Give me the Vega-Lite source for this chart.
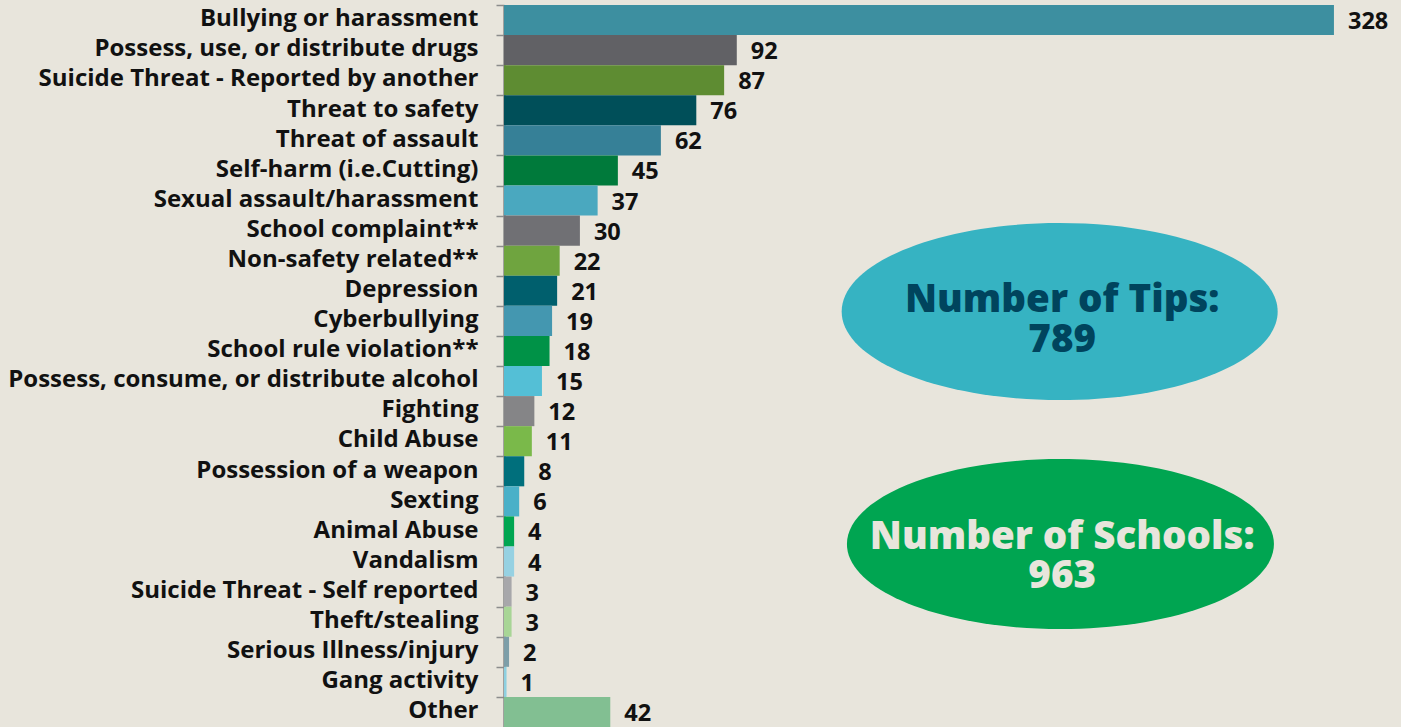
{
  "$schema": "https://vega.github.io/schema/vega-lite/v6.json",
  "width": 897,
  "height": 722,
  "autosize": {"type": "none"},
  "padding": {"left": 504, "top": 5, "right": 0, "bottom": 0},
  "background": "#e8e5dc",
  "config": {"view": {"stroke": null}, "font": "Open Sans"},
  "datasets": {
    "tips": [
      {"category": "Bullying or harassment", "count": 328},
      {"category": "Possess, use, or distribute drugs\u2005", "count": 92},
      {"category": "Suicide Threat - Reported by another", "count": 87},
      {"category": "Threat to safety", "count": 76},
      {"category": "Threat of assault", "count": 62},
      {"category": "Self-harm (i.e.Cutting)", "count": 45},
      {"category": "Sexual assault/harassment", "count": 37},
      {"category": "School complaint**", "count": 30},
      {"category": "Non-safety related**", "count": 22},
      {"category": "Depression", "count": 21},
      {"category": "Cyberbullying", "count": 19},
      {"category": "School rule violation**", "count": 18},
      {"category": "Possess, consume, or distribute alcohol", "count": 15},
      {"category": "Fighting", "count": 12},
      {"category": "Child Abuse", "count": 11},
      {"category": "Possession of a weapon", "count": 8},
      {"category": "Sexting", "count": 6},
      {"category": "Animal Abuse", "count": 4},
      {"category": "Vandalism", "count": 4},
      {"category": "Suicide Threat - Self reported", "count": 3},
      {"category": "Theft/stealing", "count": 3},
      {"category": "Serious Illness/injury", "count": 2},
      {"category": "Gang activity", "count": 1},
      {"category": "Other\u2005", "count": 42}
    ],
    "ovals": [
      {"oval": "tips", "x": 219.6, "row": 10.19},
      {"oval": "schools", "x": 219.9, "row": 17.92}
    ],
    "lines": [
      {"oval": "tips", "text": "Number of Tips:", "x": 220.6, "row": 10.19},
      {"oval": "tips", "text": "789", "x": 220.6, "row": 11.52},
      {"oval": "schools", "text": "Number of Schools:", "x": 220.6, "row": 18.08},
      {"oval": "schools", "text": "963", "x": 220.6, "row": 19.38}
    ]
  },
  "layer": [
    {
      "data": {"name": "tips"},
      "encoding": {
        "y": {
          "field": "category",
          "type": "nominal",
          "sort": null,
          "scale": {"paddingInner": 0, "paddingOuter": 0},
          "axis": {
            "title": null,
            "labelFont": "Open Sans",
            "labelFontWeight": "bold",
            "labelFontSize": 24,
            "labelColor": "#111111",
            "labelPadding": 18,
            "labelLimit": 0,
            "tickSize": 8,
            "tickColor": "#8c8c8c",
            "tickWidth": 1.5,
            "domainColor": "#8a8a8a",
            "domainWidth": 2.5,
            "tickOffset": -15.04,
            "labelOffset": 13.8
          }
        },
        "x": {
          "field": "count",
          "type": "quantitative",
          "scale": {"domain": [0, 354.5], "nice": false, "zero": true},
          "axis": null
        }
      },
      "layer": [
        {
          "mark": {"type": "bar", "opacity": 1},
          "encoding": {
            "color": {
              "field": "category",
              "type": "nominal",
              "legend": null,
              "scale": {
                "domain": [
                  "Bullying or harassment",
                  "Possess, use, or distribute drugs\u2005",
                  "Suicide Threat - Reported by another",
                  "Threat to safety",
                  "Threat of assault",
                  "Self-harm (i.e.Cutting)",
                  "Sexual assault/harassment",
                  "School complaint**",
                  "Non-safety related**",
                  "Depression",
                  "Cyberbullying",
                  "School rule violation**",
                  "Possess, consume, or distribute alcohol",
                  "Fighting",
                  "Child Abuse",
                  "Possession of a weapon",
                  "Sexting",
                  "Animal Abuse",
                  "Vandalism",
                  "Suicide Threat - Self reported",
                  "Theft/stealing",
                  "Serious Illness/injury",
                  "Gang activity",
                  "Other\u2005"
                ],
                "range": [
                  "#3d8fa0", "#616165", "#5e8c32", "#004f59", "#368097", "#007a3b",
                  "#4aa8bf", "#707074", "#6fa43f", "#005f6d", "#4497b0", "#009247",
                  "#54bfd6", "#858587", "#7ab94a", "#006f7c", "#4ab0c8", "#00a551",
                  "#96d1e2", "#a7a7aa", "#a8d596", "#7d9ea8", "#8ed0e0", "#82bf92"
                ]
              }
            }
          }
        },
        {
          "mark": {
            "type": "text",
            "align": "left",
            "baseline": "middle",
            "dx": 14,
            "dy": 2,
            "font": "Open Sans",
            "fontWeight": "bold",
            "fontSize": 23.5,
            "color": "#111111"
          },
          "encoding": {"text": {"field": "count", "type": "quantitative"}}
        }
      ]
    },
    {
      "data": {"name": "ovals"},
      "mark": {"type": "point", "filled": true, "opacity": 1, "strokeWidth": 0},
      "encoding": {
        "x": {"field": "x", "type": "quantitative", "scale": {"domain": [0, 354.5], "nice": false, "zero": true}, "axis": null},
        "y": {"field": "row", "type": "quantitative", "scale": {"domain": [0, 24], "reverse": true, "nice": false, "zero": true}, "axis": null},
        "shape": {
          "field": "oval",
          "type": "nominal",
          "legend": null,
          "scale": {
            "domain": ["tips", "schools"],
            "range": [
              "M-1,0C-1,-0.224,-0.552,-0.406,0,-0.406C0.552,-0.406,1,-0.224,1,0C1,0.224,0.552,0.406,0,0.406C-0.552,0.406,-1,0.224,-1,0Z",
              "M-1,0C-1,-0.22,-0.552,-0.398,0,-0.398C0.552,-0.398,1,-0.22,1,0C1,0.22,0.552,0.398,0,0.398C-0.552,0.398,-1,0.22,-1,0Z"
            ]
          }
        },
        "size": {
          "field": "oval",
          "type": "nominal",
          "legend": null,
          "scale": {"domain": ["tips", "schools"], "range": [190096, 182329]}
        },
        "fill": {
          "field": "oval",
          "type": "nominal",
          "legend": null,
          "scale": {"domain": ["tips", "schools"], "range": ["#36b3c2", "#00a551"]}
        }
      }
    },
    {
      "data": {"name": "lines"},
      "mark": {
        "type": "text",
        "align": "center",
        "baseline": "alphabetic",
        "font": "Open Sans",
        "fontWeight": 800,
        "fontSize": 38.5
      },
      "encoding": {
        "x": {"field": "x", "type": "quantitative", "scale": {"domain": [0, 354.5], "nice": false, "zero": true}, "axis": null},
        "y": {"field": "row", "type": "quantitative", "scale": {"domain": [0, 24], "reverse": true, "nice": false, "zero": true}, "axis": null},
        "text": {"field": "text", "type": "nominal"},
        "fill": {
          "field": "oval",
          "type": "nominal",
          "legend": null,
          "scale": {"domain": ["tips", "schools"], "range": ["#00445d", "#e8e5dc"]}
        }
      }
    }
  ],
  "resolve": {"scale": {"y": "independent", "color": "independent", "fill": "independent", "shape": "independent", "size": "independent"}}
}
